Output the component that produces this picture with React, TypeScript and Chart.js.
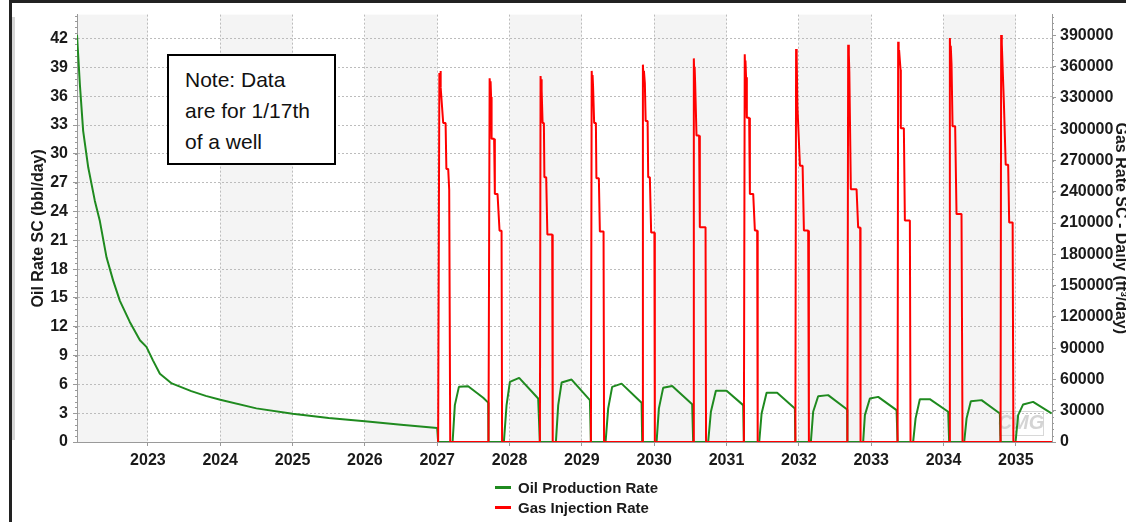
import React, { useEffect, useRef } from "react";
import { Chart, registerables } from "chart.js";

Chart.register(...registerables);

// ---------- data ----------
const xTickYears = [2023, 2024, 2025, 2026, 2027, 2028, 2029, 2030, 2031, 2032, 2033, 2034, 2035];
const oilTicks = [0, 3, 6, 9, 12, 15, 18, 21, 24, 27, 30, 33, 36, 39, 42];
const gasTicks = [0, 30000, 60000, 90000, 120000, 150000, 180000, 210000, 240000, 270000, 300000, 330000, 360000, 390000];

const oilYears = [
  2022.02, 2022.06, 2022.105, 2022.175, 2022.267, 2022.336, 2022.429, 2022.52, 2022.613, 2022.75, 2022.89, 2022.98,
  2023.07, 2023.166, 2023.33, 2023.6, 2023.8, 2024.0, 2024.5, 2025.0, 2025.5, 2026.0, 2026.5, 2027.0, 2027.013,
  2027.213, 2027.244, 2027.3, 2027.428, 2027.636, 2027.705, 2027.709,
  2027.922, 2027.959, 2028.005, 2028.133, 2028.396, 2028.419,
  2028.641, 2028.673, 2028.72, 2028.858, 2029.111, 2029.125,
  2029.328, 2029.364, 2029.419, 2029.549, 2029.826, 2029.834,
  2030.033, 2030.065, 2030.124, 2030.249, 2030.525, 2030.539,
  2030.746, 2030.784, 2030.853, 2031.001, 2031.23, 2031.24,
  2031.452, 2031.485, 2031.554, 2031.7, 2031.945, 2031.952,
  2032.166, 2032.198, 2032.267, 2032.405, 2032.668, 2032.671,
  2032.889, 2032.913, 2032.982, 2033.097, 2033.351, 2033.365,
  2033.58, 2033.614, 2033.673, 2033.811, 2034.065, 2034.078,
  2034.286, 2034.319, 2034.378, 2034.526, 2034.779, 2034.789,
  2034.996, 2035.032, 2035.101, 2035.239, 2035.494,
];
const oilRates = [
  42.4, 37.2, 32.4, 28.6, 25.1, 23.0, 19.2, 16.8, 14.7, 12.5, 10.6, 9.9,
  8.5, 7.1, 6.1, 5.3, 4.8, 4.4, 3.5, 2.95, 2.5, 2.15, 1.8, 1.45, 0,
  0, 3.84, 5.74, 5.8, 4.6, 4.1, 0,
  0, 3.84, 6.26, 6.67, 4.53, 0,
  0, 3.84, 6.19, 6.5, 4.36, 0,
  0, 3.5, 5.74, 6.08, 4.08, 0,
  0, 3.5, 5.64, 5.84, 3.94, 0,
  0, 3.15, 5.33, 5.33, 3.84, 0,
  0, 2.97, 5.12, 5.12, 3.5, 0,
  0, 3.15, 4.77, 4.88, 3.39, 0,
  0, 2.8, 4.53, 4.7, 3.32, 0,
  0, 2.46, 4.46, 4.46, 3.15, 0,
  0, 2.46, 4.25, 4.36, 2.97, 0,
  0, 2.8, 3.91, 4.18, 2.97,
];

const gasYears = [
  2027.0,
  2027.013, 2027.03, 2027.04, 2027.045, 2027.051, 2027.083, 2027.116, 2027.127, 2027.152, 2027.166, 2027.175, 2027.18,
  2027.709, 2027.725, 2027.733, 2027.738, 2027.745, 2027.752, 2027.787, 2027.797, 2027.834, 2027.862, 2027.89, 2027.897,
  2028.42, 2028.429, 2028.436, 2028.441, 2028.447, 2028.457, 2028.475, 2028.482, 2028.507, 2028.523, 2028.59, 2028.597,
  2029.125, 2029.136, 2029.143, 2029.148, 2029.155, 2029.17, 2029.194, 2029.201, 2029.235, 2029.249, 2029.3, 2029.307,
  2029.834, 2029.844, 2029.852, 2029.858, 2029.871, 2029.882, 2029.909, 2029.917, 2029.94, 2029.958, 2030.003, 2030.009,
  2030.539, 2030.548, 2030.555, 2030.559, 2030.566, 2030.585, 2030.621, 2030.631, 2030.71, 2030.717,
  2031.24, 2031.252, 2031.258, 2031.262, 2031.27, 2031.281, 2031.313, 2031.323, 2031.369, 2031.392, 2031.424, 2031.431,
  2031.952, 2031.962, 2031.968, 2031.972, 2031.98, 2032.015, 2032.052, 2032.07, 2032.129, 2032.139,
  2032.671, 2032.682, 2032.689, 2032.693, 2032.698, 2032.719, 2032.798, 2032.82, 2032.848, 2032.853,
  2033.365, 2033.373, 2033.38, 2033.386, 2033.406, 2033.41, 2033.452, 2033.466, 2033.535, 2033.544,
  2034.078, 2034.088, 2034.095, 2034.1, 2034.111, 2034.125, 2034.161, 2034.18, 2034.249, 2034.263,
  2034.789, 2034.797, 2034.804, 2034.808, 2034.816, 2034.835, 2034.86, 2034.894, 2034.908, 2034.956, 2034.966,
  2035.5,
];
const gasRates = [
  0,
  0, 354000, 346000, 356000, 340000, 306000, 306000, 262000, 262000, 242000, 242000, 0,
  0, 349000, 338000, 346000, 331000, 291000, 291000, 238000, 238000, 202600, 202600, 0,
  0, 351000, 340000, 348000, 338000, 306000, 306000, 254000, 254000, 199000, 199000, 0,
  0, 356000, 342000, 352000, 341000, 306000, 306000, 253000, 253000, 202000, 202000, 0,
  0, 362000, 348000, 356000, 344000, 308000, 308000, 254000, 254000, 201000, 201000, 0,
  0, 368000, 350000, 360000, 345000, 294000, 294000, 206000, 206000, 0,
  0, 372000, 356000, 366000, 350000, 311000, 311000, 238000, 238000, 203000, 203000, 0,
  0, 377000, 362000, 370000, 322000, 265000, 265000, 203000, 203000, 0,
  0, 381000, 362000, 372000, 355000, 242500, 242500, 205800, 205800, 0,
  0, 384000, 368000, 376000, 357000, 301000, 301000, 212500, 212500, 0,
  0, 387500, 370000, 380000, 362000, 303000, 303000, 218600, 218600, 0,
  0, 390500, 370000, 382000, 362000, 325000, 266000, 266000, 210600, 210600, 0,
  0,
];

const seriesNames = ["Oil Production Rate", "Gas Injection Rate"];
const axisTitles = ["Oil Rate SC (bbl/day)", "Gas Rate SC - Daily (ft\u00B3/day)"];
const noteLines = ["Note: Data", "are for 1/17th", "of a well"];
const watermarkText = "CMG";

// ---------- styles ----------
const FONT = "'Liberation Sans', Arial, Helvetica, sans-serif";
const OIL_COLOR = "#1f8a1f";
const GAS_COLOR = "#ff0000";
const TEXT_COLOR = "#1a1a1a";
const AXIS_COLOR = "#9a9a9a";
const GRID_COLOR = "#bcbcbc";

const bandsPlugin = {
  id: "yearBands",
  beforeDraw(chart: any) {
    const { ctx, chartArea, scales } = chart;
    const xs = scales.x;
    ctx.save();
    ctx.fillStyle = "#f4f4f4";
    for (let y = 2022; y < 2036; y += 2) {
      const a = Math.max(y, xs.min);
      const b = Math.min(y + 1, xs.max);
      if (b <= a) continue;
      const x1 = xs.getPixelForValue(a);
      const x2 = xs.getPixelForValue(b);
      ctx.fillRect(x1, chartArea.top, x2 - x1, chartArea.bottom - chartArea.top);
    }
    ctx.restore();
  },
};

const minorTicksPlugin = {
  id: "minorTicks",
  afterDraw(chart: any) {
    const { ctx, scales } = chart;
    const yl = scales.yOil;
    const yr = scales.yGas;
    ctx.save();
    ctx.strokeStyle = AXIS_COLOR;
    ctx.lineWidth = 1;
    for (let i = 0; i <= 74; i++) {
      const p = Math.round(yl.getPixelForValue(i * 0.6)) + 0.5;
      ctx.beginPath();
      ctx.moveTo(yl.right - 2, p);
      ctx.lineTo(yl.right, p);
      ctx.stroke();
    }
    for (let i = 0; i <= 68; i++) {
      const p = Math.round(yr.getPixelForValue(i * 6000)) + 0.5;
      ctx.beginPath();
      ctx.moveTo(yr.left, p);
      ctx.lineTo(yr.left + 2, p);
      ctx.stroke();
    }
    ctx.restore();
  },
};

const watermarkPlugin = {
  id: "watermark",
  beforeDatasetsDraw(chart: any) {
    const { ctx, chartArea } = chart;
    ctx.save();
    ctx.strokeStyle = "rgba(200,200,200,0.7)";
    ctx.lineWidth = 1;
    ctx.strokeRect(chartArea.right - 52.5, chartArea.bottom - 30.5, 44, 24);
    ctx.font = `italic bold 20px ${FONT}`;
    ctx.fillStyle = "rgba(205,205,205,0.85)";
    ctx.textAlign = "center";
    ctx.textBaseline = "middle";
    ctx.fillText(watermarkText, chartArea.right - 31, chartArea.bottom - 19);
    ctx.restore();
  },
};

export default function App() {
  const canvasRef = useRef<HTMLCanvasElement | null>(null);

  useEffect(() => {
    const canvas = canvasRef.current;
    if (!canvas) return;
    const tickFont = { family: FONT, size: 16, weight: "bold" as const };
    const chart = new Chart(canvas, {
      type: "line",
      data: {
        datasets: [
          {
            label: seriesNames[0],
            data: oilYears.map((x, i) => ({ x, y: oilRates[i] })),
            borderColor: OIL_COLOR,
            backgroundColor: OIL_COLOR,
            borderWidth: 2,
            pointRadius: 0,
            tension: 0,
            fill: false,
            borderJoinStyle: "bevel",
            yAxisID: "yOil",
            order: 1,
          },
          {
            label: seriesNames[1],
            data: gasYears.map((x, i) => ({ x, y: gasRates[i] })),
            borderColor: GAS_COLOR,
            backgroundColor: GAS_COLOR,
            borderWidth: 2,
            pointRadius: 0,
            tension: 0,
            fill: false,
            borderJoinStyle: "bevel",
            yAxisID: "yGas",
            order: 0,
          },
        ],
      },
      options: {
        responsive: false,
        animation: false,
        devicePixelRatio: 1,
        layout: { padding: { top: 14, left: 0, right: 0, bottom: 0 } },
        plugins: {
          legend: { display: false },
          tooltip: { enabled: false },
        },
        scales: {
          x: {
            type: "linear",
            min: 2022.02,
            max: 2035.5,
            afterBuildTicks: (s: any) => {
              s.ticks = xTickYears.map((v) => ({ value: v }));
            },
            afterFit: (s: any) => {
              s.height = 80;
            },
            ticks: {
              autoSkip: false,
              maxRotation: 0,
              padding: 5,
              font: tickFont,
              color: TEXT_COLOR,
              callback: (v: any) => String(v),
            },
            grid: { color: GRID_COLOR, tickColor: AXIS_COLOR, tickLength: 4, lineWidth: 1 },
            border: { display: true, color: AXIS_COLOR, width: 1, dash: [2, 2] },
          },
          yOil: {
            type: "linear",
            position: "left",
            min: 0,
            max: 44.5,
            afterBuildTicks: (s: any) => {
              s.ticks = oilTicks.map((v) => ({ value: v }));
            },
            afterFit: (s: any) => {
              s.width = 77;
            },
            ticks: {
              autoSkip: false,
              padding: 5,
              font: tickFont,
              color: TEXT_COLOR,
              callback: (v: any) => String(v),
            },
            grid: { color: GRID_COLOR, tickColor: AXIS_COLOR, tickLength: 4, lineWidth: 1 },
            border: { display: true, color: AXIS_COLOR, width: 1, dash: [2, 2] },
            title: {
              display: true,
              text: axisTitles[0],
              color: TEXT_COLOR,
              font: { family: FONT, size: 16, weight: "bold" },
              padding: { top: 28.8, bottom: 0 },
            },
          },
          yGas: {
            type: "linear",
            position: "right",
            min: 0,
            max: 410000,
            afterBuildTicks: (s: any) => {
              s.ticks = gasTicks.map((v) => ({ value: v }));
            },
            afterFit: (s: any) => {
              s.width = 74;
            },
            ticks: {
              autoSkip: false,
              padding: 4,
              font: tickFont,
              color: TEXT_COLOR,
              callback: (v: any) => String(v),
            },
            grid: { drawOnChartArea: false, tickColor: AXIS_COLOR, tickLength: 4 },
            border: { display: true, color: AXIS_COLOR, width: 1 },
            title: {
              display: true,
              text: axisTitles[1],
              color: TEXT_COLOR,
              font: { family: FONT, size: 16, weight: "bold" },
              padding: { top: -4.2, bottom: 0 },
            },
          },
        },
      },
      plugins: [bandsPlugin, minorTicksPlugin, watermarkPlugin],
    } as any);
    return () => chart.destroy();
  }, []);

  return (
    <div
      style={{
        position: "fixed",
        left: 0,
        top: 0,
        width: 1126,
        height: 522,
        background: "#ffffff",
        overflow: "hidden",
      }}
    >
      <canvas
        ref={canvasRef}
        width={1126}
        height={522}
        style={{ position: "absolute", left: 0, top: 0, width: 1126, height: 522 }}
      />
      {/* slide frame */}
      <div style={{ position: "absolute", left: 9, top: 0, width: 1117, height: 3, background: "#222" }} />
      <div style={{ position: "absolute", left: 9, top: 0, width: 3, height: 522, background: "#222" }} />
      <div style={{ position: "absolute", left: 12, top: 17, width: 3, height: 423, background: "#d6d6d6" }} />
      {/* note box */}
      <div
        style={{
          position: "absolute",
          left: 167,
          top: 54,
          width: 169,
          height: 111,
          boxSizing: "border-box",
          border: "2px solid #000",
          background: "#fff",
          padding: "8px 0 0 16px",
          fontFamily: FONT,
          fontSize: 21,
          lineHeight: "31px",
          color: "#111",
          whiteSpace: "nowrap",
        }}
      >
        {noteLines.map((t) => (
          <div key={t}>{t}</div>
        ))}
      </div>
      {/* legend */}
      {seriesNames.map((name, i) => (
        <div
          key={name}
          style={{
            position: "absolute",
            left: 495,
            top: 477 + i * 20,
            height: 20,
            display: "flex",
            alignItems: "center",
            fontFamily: FONT,
            fontSize: 15,
            fontWeight: "bold",
            color: TEXT_COLOR,
            whiteSpace: "nowrap",
          }}
        >
          <span
            style={{
              display: "inline-block",
              width: 16,
              height: 3,
              background: i === 0 ? OIL_COLOR : GAS_COLOR,
              marginRight: 7,
            }}
          />
          <span>{name}</span>
        </div>
      ))}
    </div>
  );
}
